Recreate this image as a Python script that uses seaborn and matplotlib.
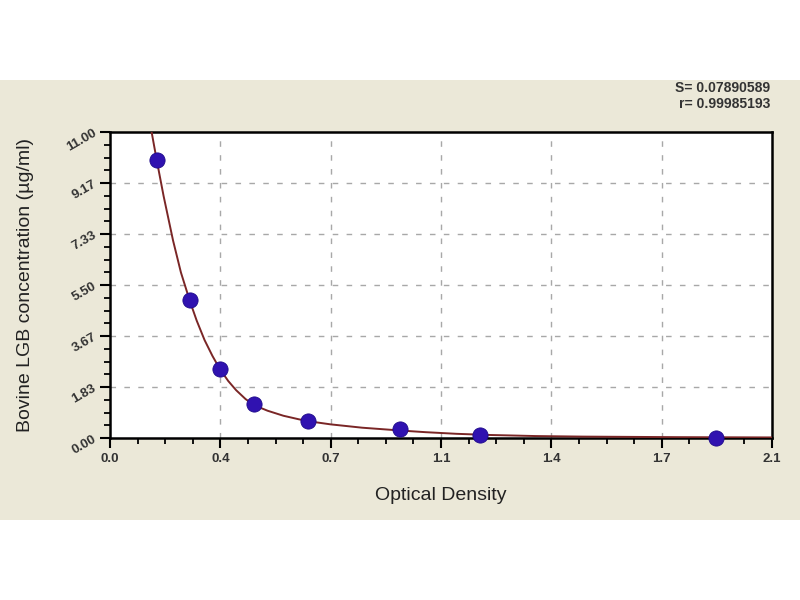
import matplotlib
matplotlib.use("Agg")
import matplotlib.pyplot as plt
from matplotlib.ticker import MultipleLocator
import seaborn as sns
import pandas as pd

# Standard points
od_points = [0.148, 0.254, 0.349, 0.457, 0.629, 0.920, 1.174, 1.923]
conc_points = [9.99, 4.96, 2.47, 1.21, 0.62, 0.33, 0.11, 0.00]

# Fitted curve samples
curve_od = [0.132, 0.148, 0.17, 0.2, 0.225, 0.254, 0.275, 0.3, 0.325, 0.349, 0.375,
            0.4, 0.43, 0.457, 0.5, 0.55, 0.6, 0.65, 0.7, 0.8, 0.92, 1.0, 1.1, 1.2,
            1.35, 1.5, 1.8, 2.1]
curve_conc = [11.0, 10.0, 8.7, 7.1, 5.95, 4.9, 4.22, 3.52, 2.95, 2.47, 2.05,
              1.72, 1.40, 1.18, 0.98, 0.80, 0.67, 0.57, 0.49, 0.37, 0.27, 0.21, 0.15, 0.11,
              0.07, 0.05, 0.03, 0.02]

x_tick_pos = [0.0, 0.35, 0.7, 1.05, 1.4, 1.75, 2.1]
x_tick_labels = ["0.0", "0.4", "0.7", "1.1", "1.4", "1.7", "2.1"]
y_tick_pos = [0.0, 11 / 6, 22 / 6, 5.5, 44 / 6, 55 / 6, 11.0]
y_tick_labels = ["0.00", "1.83", "3.67", "5.50", "7.33", "9.17", "11.00"]

stat_lines = ["S= 0.07890589", "r= 0.99985193"]

sns.set_style("ticks")
plt.rcParams['font.family'] = ['Liberation Sans', 'DejaVu Sans']

fig = plt.figure(figsize=(8, 6), dpi=100)
fig.patch.set_facecolor("white")

bg = fig.add_axes([0, 80 / 600, 1, 440 / 600], zorder=-5)
bg.set_facecolor("#ebe8d8")
bg.set_xticks([])
bg.set_yticks([])
for sp in bg.spines.values():
    sp.set_visible(False)

ax = fig.add_axes([110 / 800, 1 - 438 / 600, 662 / 800, 306 / 600], zorder=1)
ax.set_facecolor("white")

curve_df = pd.DataFrame({"od": curve_od, "conc": curve_conc})
pts_df = pd.DataFrame({"od": od_points, "conc": conc_points})

sns.lineplot(data=curve_df, x="od", y="conc", ax=ax, color="#7a2626", linewidth=1.4,
             sort=True, estimator=None, zorder=3)
sns.scatterplot(data=pts_df, x="od", y="conc", ax=ax, color="#3012b0", s=120,
                edgecolor="#1e0a8a", linewidth=0.6, zorder=4, clip_on=False)

ax.set_xlim(0, 2.1)
ax.set_ylim(0, 11)
ax.set_xticks(x_tick_pos)
ax.set_xticklabels(x_tick_labels)
ax.set_yticks(y_tick_pos)
ax.set_yticklabels(y_tick_labels, rotation=30, ha="right", va="center", rotation_mode="anchor")
ax.xaxis.set_minor_locator(MultipleLocator(0.0875))
ax.yaxis.set_minor_locator(MultipleLocator(11 / 24))

ax.tick_params(axis="both", which="major", direction="out", length=7, width=1.5,
               color="black", labelsize=9.5, labelcolor="#333333")
ax.tick_params(axis="both", which="minor", direction="out", length=4, width=1.3, color="black")
for lab in ax.get_xticklabels() + ax.get_yticklabels():
    lab.set_fontweight("bold")

for v in x_tick_pos[1:-1]:
    ax.axvline(v, color="#a8a8a8", linestyle=(0, (4, 6)), linewidth=1.0, zorder=1)
for v in y_tick_pos[1:-1]:
    ax.axhline(v, color="#a8a8a8", linestyle=(0, (4, 6)), linewidth=1.0, zorder=1)

for sp in ax.spines.values():
    sp.set_visible(True)
    sp.set_linewidth(1.8)
    sp.set_color("black")

ax.set_xlabel("Optical Density", fontsize=14, color="#222222", labelpad=16)
ax.set_ylabel("Bovine LGB concentration (µg/ml)", fontsize=14, color="#222222", labelpad=22)

fig.text(770 / 800, 1 - 88 / 600, stat_lines[0], ha="right", va="center", fontsize=10,
         fontweight="bold", color="#333333")
fig.text(770 / 800, 1 - 104 / 600, stat_lines[1], ha="right", va="center", fontsize=10,
         fontweight="bold", color="#333333")

fig.savefig("out.png", dpi=100, facecolor=fig.get_facecolor())
